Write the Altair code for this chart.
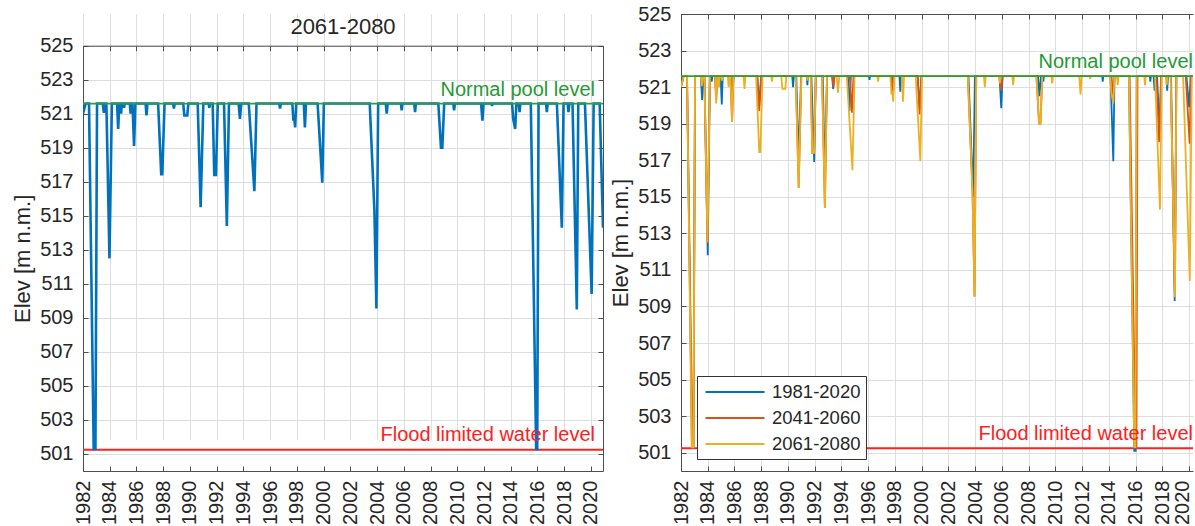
import altair as alt
import pandas as pd

FONT = "Liberation Sans"
INK = "#262626"
GRID = "#dedede"
FRAME = "#4d4d4d"

NORMAL_POOL = 521.6
FLOOD_LIMIT = 501.25
left_x_domain = [1982.0, 2020.9]
right_x_domain = [1982.0, 2020.29]   # right panel is cropped at the window edge
y_domain = [500, 525]
year_ticks = list(range(1982, 2021, 2))
elev_ticks = list(range(501, 526, 2))

series_names = ["1981-2020", "2041-2060", "2061-2080"]
series_colors = ["#0072BD", "#D95319", "#EDB120"]
left_title = "2061-2080"
y_title = "Elev [m n.m.]"
normal_label = "Normal pool level"
flood_label = "Flood limited water level"
normal_color = "#1f9a34"
normal_line_color = "#2e9e3a"
flood_color = "#ff2020"

# (decimal year, elevation m n.m.)
s1981_2020 = [
    (1982.00, 521.0), (1982.20, 521.6),
    (1982.45, 521.6), (1982.82, 501.3), (1982.93, 501.3), (1983.05, 521.6),
    (1983.48, 521.6), (1983.58, 520.3), (1983.66, 521.6),
    (1983.75, 521.6), (1984.00, 511.8), (1984.16, 521.6),
    (1984.26, 521.6), (1984.30, 521.3), (1984.34, 521.6),
    (1984.55, 521.6), (1984.63, 520.6), (1984.72, 521.6),
    (1984.96, 521.6), (1985.05, 520.05), (1985.12, 521.6),
    (1985.72, 521.6), (1985.82, 520.0), (1985.92, 521.6),
    (1987.70, 521.6), (1987.85, 520.0), (1988.00, 521.6),
    (1990.32, 521.6), (1990.38, 521.0), (1990.44, 521.6),
    (1990.62, 521.6), (1990.80, 517.0), (1990.98, 521.6),
    (1991.40, 521.6), (1991.45, 521.1), (1991.50, 521.6),
    (1991.75, 521.6), (1991.96, 516.9), (1992.08, 521.6),
    (1992.60, 521.6), (1992.76, 516.0), (1992.92, 521.6),
    (1993.30, 521.6), (1993.38, 520.9), (1993.46, 521.6),
    (1994.48, 521.6), (1994.60, 519.7), (1994.70, 521.6),
    (1996.06, 521.6), (1996.10, 521.4), (1996.14, 521.6),
    (1997.72, 521.6), (1997.80, 520.8), (1997.88, 521.6),
    (1998.34, 521.6), (1998.40, 520.75), (1998.46, 521.6),
    (1999.70, 521.6), (1999.85, 519.8), (1999.98, 521.6),
    (2003.50, 521.6), (2003.85, 515.0), (2003.98, 521.6),
    (2005.82, 521.6), (2005.95, 519.85), (2006.05, 521.6),
    (2008.70, 521.6), (2008.80, 520.5), (2008.92, 521.6),
    (2009.06, 521.6), (2009.10, 521.3), (2009.14, 521.6),
    (2013.50, 521.6), (2013.54, 521.3), (2013.58, 521.6),
    (2014.12, 521.6), (2014.33, 516.95), (2014.42, 521.6),
    (2015.50, 521.6), (2015.90, 501.1), (2016.00, 501.1), (2016.08, 521.6),
    (2017.06, 521.6), (2017.10, 521.3), (2017.14, 521.6),
    (2017.34, 521.6), (2017.42, 520.8), (2017.50, 521.6),
    (2017.60, 521.6), (2017.80, 518.5), (2017.92, 521.6),
    (2018.30, 521.6), (2018.36, 520.8), (2018.42, 521.6),
    (2018.65, 521.6), (2018.92, 509.3), (2019.04, 521.6),
    (2019.80, 521.6), (2020.00, 519.9), (2020.12, 521.6),
    (2020.70, 521.6), (2020.90, 518.0),
]

s2041_2060 = [
    (1982.00, 521.0), (1982.20, 521.6),
    (1982.45, 521.6), (1982.85, 501.3), (1982.93, 501.3), (1983.05, 521.6),
    (1983.75, 521.6), (1983.98, 512.5), (1984.16, 521.6),
    (1984.55, 521.6), (1984.63, 520.3), (1984.72, 521.6),
    (1985.70, 521.6), (1985.82, 519.1), (1985.92, 521.6),
    (1987.70, 521.6), (1987.85, 519.7), (1988.00, 521.6),
    (1990.58, 521.6), (1990.80, 515.5), (1991.00, 521.6),
    (1991.70, 521.6), (1991.82, 517.4), (1991.95, 517.4), (1992.08, 521.6),
    (1992.55, 521.6), (1992.76, 514.4), (1992.92, 521.6),
    (1993.32, 521.6), (1993.40, 521.0), (1993.48, 521.6),
    (1994.62, 521.6), (1994.78, 519.6), (1994.90, 521.6),
    (1997.75, 521.6), (1997.85, 520.5), (1997.94, 521.6),
    (1999.70, 521.6), (1999.85, 519.5), (1999.98, 521.6),
    (2003.45, 521.6), (2003.80, 515.3), (2003.95, 509.55), (2004.08, 521.6),
    (2005.85, 521.6), (2005.95, 520.8), (2006.05, 521.6),
    (2008.58, 521.6), (2008.78, 519.0), (2008.88, 519.0), (2009.02, 521.6),
    (2014.20, 521.6), (2014.32, 520.3), (2014.42, 521.6),
    (2015.55, 521.6), (2016.00, 501.3), (2016.06, 501.3), (2016.14, 521.6),
    (2017.55, 521.6), (2017.75, 518.0), (2017.90, 521.6),
    (2018.62, 521.6), (2018.94, 509.5), (2019.05, 521.6),
    (2019.75, 521.6), (2020.04, 517.9), (2020.16, 521.6),
    (2020.70, 521.6), (2020.90, 516.0),
]

s2061_2080 = [
    (1982.00, 521.0), (1982.20, 521.6),
    (1982.45, 521.6), (1982.80, 501.3), (1982.93, 501.3), (1983.05, 521.6),
    (1983.48, 521.6), (1983.56, 521.05), (1983.64, 521.6),
    (1983.75, 521.6), (1983.98, 512.5), (1984.16, 521.6),
    (1984.55, 521.6), (1984.63, 520.1), (1984.72, 521.6),
    (1984.80, 521.6), (1984.85, 521.0), (1984.90, 521.6),
    (1985.02, 521.6), (1985.07, 521.35), (1985.12, 521.6),
    (1985.50, 521.6), (1985.56, 521.0), (1985.63, 521.6),
    (1985.70, 521.6), (1985.82, 519.1), (1985.92, 521.6),
    (1986.68, 521.6), (1986.75, 520.9), (1986.82, 521.6),
    (1987.62, 521.6), (1987.85, 517.45), (1987.93, 517.45), (1988.10, 521.6),
    (1988.74, 521.6), (1988.80, 521.3), (1988.86, 521.6),
    (1989.50, 521.6), (1989.58, 520.9), (1989.80, 520.9), (1989.88, 521.6),
    (1990.58, 521.6), (1990.80, 515.5), (1991.00, 521.6),
    (1991.40, 521.6), (1991.45, 521.35), (1991.50, 521.6),
    (1991.70, 521.6), (1991.82, 517.4), (1991.95, 517.4), (1992.08, 521.6),
    (1992.55, 521.6), (1992.76, 514.4), (1992.92, 521.6),
    (1993.64, 521.6), (1993.74, 520.7), (1993.84, 521.6),
    (1994.40, 521.6), (1994.82, 516.45), (1994.98, 521.6),
    (1996.68, 521.6), (1996.74, 521.3), (1996.80, 521.6),
    (1997.66, 521.6), (1997.74, 520.6), (1997.80, 520.8), (1997.87, 520.2), (1997.95, 521.6),
    (1998.52, 521.6), (1998.60, 520.2), (1998.68, 521.6),
    (1999.55, 521.6), (1999.90, 516.95), (2000.02, 521.6),
    (2003.45, 521.6), (2003.80, 515.3), (2003.95, 509.55), (2004.08, 521.6),
    (2004.65, 521.6), (2004.72, 521.0), (2004.79, 521.6),
    (2005.78, 521.6), (2005.84, 521.2), (2005.90, 521.6),
    (2006.78, 521.6), (2006.84, 521.1), (2006.90, 521.6),
    (2008.58, 521.6), (2008.78, 519.0), (2008.88, 519.0), (2009.02, 521.6),
    (2009.70, 521.6), (2009.76, 521.2), (2009.82, 521.6),
    (2011.78, 521.6), (2011.88, 520.6), (2011.96, 521.6),
    (2012.56, 521.6), (2012.60, 521.45), (2012.64, 521.6),
    (2014.10, 521.6), (2014.18, 520.7), (2014.33, 520.1), (2014.42, 521.6),
    (2014.60, 521.6), (2014.66, 521.1), (2014.72, 521.6),
    (2015.50, 521.6), (2015.90, 501.3), (2015.98, 501.3), (2016.08, 521.6),
    (2016.64, 521.6), (2016.70, 521.1), (2016.76, 521.6),
    (2017.45, 521.6), (2017.82, 514.3), (2017.95, 521.6),
    (2018.26, 521.6), (2018.32, 521.1), (2018.38, 521.6),
    (2018.62, 521.6), (2018.94, 509.5), (2019.05, 521.6),
    (2019.55, 521.6), (2020.05, 510.4), (2020.20, 521.6),
    (2020.65, 521.6), (2020.90, 514.3),
]


def to_df(points, name):
    return pd.DataFrame({"t": [p[0] for p in points],
                         "v": [p[1] for p in points],
                         "series": name})


df_c = to_df(s2061_2080, series_names[2])
df_all = pd.concat([to_df(s1981_2020, series_names[0]),
                    to_df(s2041_2060, series_names[1]),
                    df_c], ignore_index=True)

PANEL_H = 457
LEFT_TOP = 31.7
TICK = 5


def x_labels(vals, offset=0):
    return alt.Axis(orient="bottom", values=vals, format="d", labelAngle=270,
                    labelFontSize=20, labelFont=FONT, labelColor=INK,
                    labelPadding=9, labelOffset=offset, labelFlush=False,
                    labelOverlap=False, ticks=False, domain=False, grid=False,
                    title=None)


def y_main():
    return alt.Axis(orient="left", values=elev_ticks, labelFontSize=20, labelFont=FONT,
                    labelColor=INK, labelPadding=10, labelOverlap=False,
                    labelFlush=False, ticks=False, domain=True, domainColor=FRAME,
                    grid=True, gridColor=GRID, title=y_title, titleFontSize=22,
                    titleFont=FONT, titleFontWeight="normal", titleColor=INK,
                    titlePadding=5)


def bare(orient, vals, offset=0, tick=False, domain_on=False, grid=False):
    return alt.Axis(orient=orient, values=vals, offset=offset, ticks=tick,
                    tickSize=TICK, tickColor=FRAME, tickWidth=1, labels=False,
                    domain=domain_on, domainColor=FRAME, grid=grid,
                    gridColor=GRID, title=None)


def build_panel(x_domain, y_range, lines, full_box, top_offset):
    xs = alt.Scale(domain=x_domain, nice=False, zero=False)
    ys = alt.Scale(domain=y_domain, nice=False, zero=False, range=y_range)
    corners = pd.DataFrame({"t": x_domain, "v": y_domain})
    normal_df = pd.DataFrame({"t": [x_domain[1]], "v": [NORMAL_POOL], "label": [normal_label]})
    flood_df = pd.DataFrame({"t": [x_domain[1]], "v": [FLOOD_LIMIT], "label": [flood_label]})
    dx = -8 if full_box else 0

    def host(x_axis, y_axis):
        return alt.Chart(corners).mark_line(opacity=0).encode(
            x=alt.X("t:Q", scale=xs, axis=x_axis),
            y=alt.Y("v:Q", scale=ys, axis=y_axis))

    flood = alt.Chart(flood_df).mark_rule(color=flood_color, strokeWidth=2).encode(
        y=alt.Y("v:Q", scale=ys, axis=None))
    normal = alt.Chart(normal_df).mark_rule(color=normal_line_color, strokeWidth=1.8).encode(
        y=alt.Y("v:Q", scale=ys, axis=None))
    normal_txt = alt.Chart(normal_df).mark_text(
        align="right", baseline="alphabetic", dx=dx, dy=-8, fontSize=20,
        font=FONT, color=normal_color).encode(
        x=alt.X("t:Q", scale=xs, axis=None), y=alt.Y("v:Q", scale=ys, axis=None),
        text="label:N")
    flood_txt = alt.Chart(flood_df).mark_text(
        align="right", baseline="alphabetic", dx=dx, dy=-8.5, fontSize=20,
        font=FONT, color=flood_color).encode(
        x=alt.X("t:Q", scale=xs, axis=None), y=alt.Y("v:Q", scale=ys, axis=None),
        text="label:N")

    # labels: the last year label of the cropped panel is nudged to stay inside
    if full_box:
        main = lines(xs, ys, x_labels(year_ticks))
        extra_label = host(bare("bottom", year_ticks, grid=True), None)
    else:
        main = lines(xs, ys, x_labels(year_ticks[:-1]))
        extra_label = host(x_labels(year_ticks[-1:], offset=-7), None)

    hosts = [
        extra_label,
        host(bare("bottom", year_ticks, grid=True), bare("left", elev_ticks, -TICK, True)),
        host(bare("top", year_ticks, -top_offset, False, True), None),
        host(bare("top", year_ticks, -(top_offset + TICK), True), None),
        host(bare("bottom", year_ticks, -TICK, True), None),
        host(bare("bottom", year_ticks, 0, False, True), None),
    ]
    if full_box:
        hosts.append(host(None, bare("right", elev_ticks, -TICK, True)))
        hosts.append(host(None, bare("right", elev_ticks, 0, False, True)))
    return [flood, main, normal, normal_txt, flood_txt] + hosts


def left_lines(xs, ys, x_axis):
    return alt.Chart(df_c).mark_line(color=series_colors[0], strokeWidth=2.6, clip=True).encode(
        x=alt.X("t:Q", scale=xs, axis=x_axis),
        y=alt.Y("v:Q", scale=ys, axis=y_main()))


def right_lines(xs, ys, x_axis):
    return alt.Chart(df_all).mark_line(strokeWidth=1.8, clip=True).encode(
        x=alt.X("t:Q", scale=xs, axis=x_axis),
        y=alt.Y("v:Q", scale=ys, axis=y_main()),
        color=alt.Color("series:N",
                        scale=alt.Scale(domain=series_names, range=series_colors),
                        legend=alt.Legend(orient="none", legendX=16, legendY=362,
                                          title=None, symbolType="M-3,0H3",
                                          symbolSize=387, symbolStrokeWidth=2,
                                          symbolOffset=22,
                                          labelFontSize=18.5, labelFont=FONT,
                                          labelColor=INK, fillColor="white",
                                          strokeColor="#333333", padding=5,
                                          rowPadding=5, labelOffset=26)))


left = alt.layer(*build_panel(left_x_domain, [PANEL_H, LEFT_TOP], left_lines, True, LEFT_TOP)
                 ).resolve_axis(x="independent", y="independent").properties(
    width=520, height=PANEL_H,
    view=alt.ViewBackground(stroke="transparent"),
    title=alt.TitleParams(text=left_title, fontSize=22, font=FONT,
                          fontWeight="normal", color=INK, offset=-25))

right = alt.layer(*build_panel(right_x_domain, [PANEL_H, 0], right_lines, False, 0)
                  ).resolve_axis(x="independent", y="independent").properties(
    width=512, height=PANEL_H, view=alt.ViewBackground(stroke="transparent"))

chart = alt.hconcat(left, right, spacing=4).resolve_scale(
    color="independent").resolve_legend(color="independent").properties(
    padding={"left": 11, "top": 3, "right": 0, "bottom": 0}
).configure(background="white")

chart.save("out.html", embed_options={"renderer": "svg", "actions": False})
